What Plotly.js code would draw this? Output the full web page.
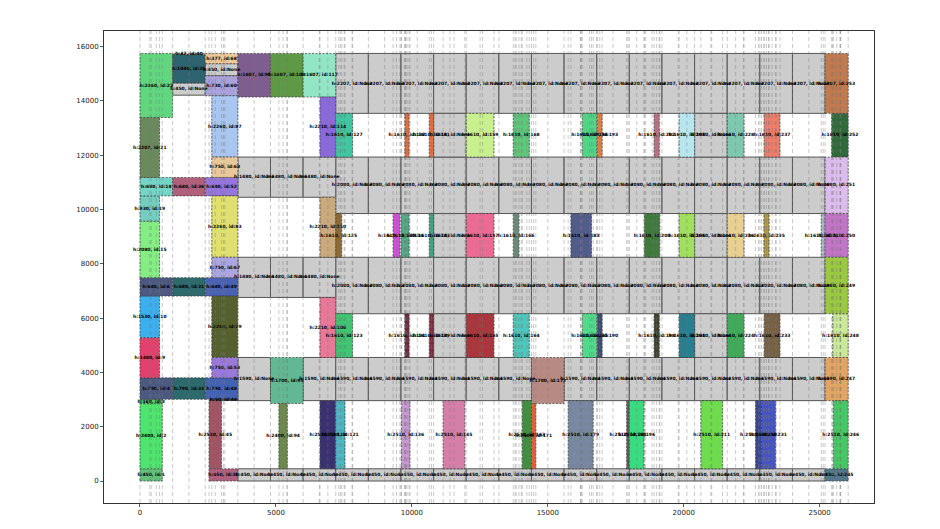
<!DOCTYPE html>
<html><head><meta charset="utf-8">
<script src="https://cdn.plot.ly/plotly-3.0.1.min.js"></script>
<style>html,body{margin:0;padding:0;background:#fff}#chart{width:940px;height:529px}</style>
</head><body><div id="chart"></div>
<script>
// ---- Data: packed items (id, left x, right x, bottom y, height) ----
const itemId = ['1','2','3','4','33','48','9','10','6','31','49','15','19','18','36','52','21','22','40','35',
  '68','60','87','68','83','67','79','53','46','45','38',
  '90','100','117','114','110','106','95','94','118','121',
  '127','132','141','159','168','186','193','202','208','228','237','252',
  '125','130','134','143','157','166','183','200','206','226','235','243','250',
  '123','131','139','155','164','185','190','198','204','224','233','248',
  '249','251','253','247','245','172',
  '136','145','163','171','179','194','196','211','229','231','246'];
const itemX0 = [0,0,0,0,1200,2400,0,0,0,1200,2400,0,0,0,1200,2400,0,0,1200,1200,
  2400,2400,2640,2640,2640,2640,2640,2640,2540,2540,2540,
  3600,4800,6000,6620,6620,6620,4800,5110,6620,7200,
  7200,9740,10640,12000,13730,16270,16820,18910,19830,21600,22960,25440,
  7200,9310,9600,10640,12000,13730,15850,18550,19830,21600,22950,25060,25200,
  7200,9740,10640,12000,13730,16270,16820,18910,19830,21600,22960,25480,
  25200,25200,25200,25200,25200,14400,
  9620,11150,14060,14400,15750,17900,18000,20630,22640,22860,25500];
const itemX1 = [820,820,820,1200,2400,3600,720,720,1200,2400,3600,720,720,1200,2400,3600,720,1200,2400,2400,
  3600,3600,3600,3600,3600,3600,3600,3600,3600,3000,3600,
  4800,6000,7200,7200,7200,7200,6000,5420,7200,7540,
  7820,9900,10800,13020,14320,16800,17000,19100,20400,22220,23540,26050,
  7420,9560,9900,10800,13020,13940,16610,19120,20400,22220,23140,25200,26050,
  7820,9900,10800,13020,14320,16800,17000,19100,20400,22220,23540,26050,
  26050,26050,26050,26050,26050,15600,
  9930,11950,14400,14560,16670,18000,18540,21430,22860,23380,26050];
const itemY0 = [0,450,2850,3010,3010,3010,3800,5280,6810,6810,6810,7490,9570,10500,10500,10500,11180,13387,15700,14660,
  15370,14190,11930,11180,8240,7490,4550,3800,2960,450,0,
  14140,14140,14140,11930,8240,4550,2850,450,450,450,
  11930,11930,11930,11930,11930,11930,11930,11930,11930,11930,11930,11930,
  8240,8240,8240,8240,8240,8240,8240,8240,8240,8240,8240,8240,8240,
  4550,4550,4550,4550,4550,4550,4550,4550,4550,4550,4550,4550,
  6160,9850,13540,2960,0,2850,
  450,450,450,450,450,450,450,450,450,450,450];
const itemH = [450,2400,160,790,790,790,1480,1530,680,680,680,2080,930,680,680,680,2207,2360,47,1040,
  377,730,2260,750,2260,750,2260,750,50,2510,450,
  1607,1607,1607,2210,2210,2210,1700,2400,2510,2510,
  1610,1610,1610,1610,1610,1610,1610,1610,1610,1610,1610,1610,
  1610,1610,1610,1610,1610,1610,1610,1610,1610,1610,1610,1610,1610,
  1610,1610,1610,1610,1610,1610,1610,1610,1610,1610,1610,1610,
  2080,2080,2207,1590,450,1700,
  2510,2510,2510,2400,2510,2510,2510,2510,2510,2510,2510];

// ---- Data: unassigned (id None) blocks, by row ----
const colsMain = [7200,8400,9600,10800,12000,13200,14400,15600,16800,18000,19200,20400,21600,22800,24000];
const colsRowC = [3600,6000,7200,8400,9600,10800,12000,13200,15600,16800,18000,19200,20400,21600,22800,24000];
const colsRowA = [3600,4800,6000,7200,8400,9600,10800,12000,13200,14400,15600,16800,18000,19200,20400,21600,22800,24000];
const colsGap = [10800,20400];
const colsMid = [3600,4800,6000];
const noneRows = [
  {cols: colsMain, y: 13540, h: 2207},
  {cols: colsMain, y: 9850, h: 2080},
  {cols: colsMain, y: 6160, h: 2080},
  {cols: colsGap, y: 11930, h: 1610},
  {cols: colsGap, y: 8240, h: 1610},
  {cols: colsGap, y: 4550, h: 1610},
  {cols: colsRowC, y: 2960, h: 1590},
  {cols: colsRowA, y: 0, h: 450},
  {cols: colsMid, y: 10450, h: 1480},
  {cols: colsMid, y: 6760, h: 1480},
  {cols: [1200], y: 14210, h: 450},
  {cols: [2400], y: 14920, h: 450}
];
const noneWidth = 1200;
const xTicks = [0,5000,10000,15000,20000,25000];
const yTicks = [0,2000,4000,6000,8000,10000,12000,14000,16000];

// ---- Styles ----
const itemColor = ['#62c27a','#4ee46e','#58c86a','#4c5a82','#2e6a6c','#4462b4','#e4406c','#3cb0ee','#4c5a82','#2e6a6c','#4a62b4','#84ee84','#74cec0','#74d4c6','#b0607a','#9676dc','#6a8a5c','#62d67e','#d0b070','#2e6470',
  '#ecc898','#aaa2da','#a8c6f0','#e8c89a','#e0e070','#aca6e0','#56602e','#9a7ad8','#3a3a3a','#a05464','#b0607e',
  '#7e5e8e','#5e9a46','#92e6c6','#8a6ada','#c8aa7c','#e87898','#62b892','#6e8a4a','#3a3270','#4cb8c8',
  '#3ec8a2','#e4703e','#e4703e','#c8f08e','#5ec87a','#52d484','#e08044','#c07084','#b8e6ee','#7ec8b2','#ee7c6a','#2f6a3a',
  '#8e6a2e','#d04ed8','#52aa86','#42a482','#ea6c92','#6a8c7a','#525c8a','#3e7a3c','#a2de60','#e8d092','#b29a42','#b0b8cc','#c274c8',
  '#3ec672','#6e2a3a','#7e2e40','#a8383e','#4ec8bc','#52da8a','#3e4c6e','#3e4430','#2a7e8e','#40aa5a','#786042','#cae89a',
  '#9ac83e','#dcbcec','#c07a4e','#e2a462','#50788a','#b88a84',
  '#c898d2','#d47ea8','#3e903e','#e0603e','#7888a2','#555f55','#36dc7e','#6edc4c','#3a4690','#4454c4','#44c864'];

const shapes = [];
const tx = [], ty = [], tt = [];
const xEdges = new Set();

noneRows.forEach(r => {
  r.cols.forEach(c => {
    shapes.push({type:'rect', xref:'x', yref:'y', x0:c, x1:c+noneWidth, y0:r.y, y1:r.y+r.h,
      fillcolor:'#cccccc', line:{color:'#555', width:1}, layer:'below'});
    tx.push(c+noneWidth/2); ty.push(r.y+r.h/2); tt.push('h:'+r.h+', id:None');
    xEdges.add(c); xEdges.add(c+noneWidth/2);
  });
});
itemId.forEach((id,i) => {
  const x0 = itemX0[i], x1 = itemX1[i], y0 = itemY0[i], h = itemH[i];
  shapes.push({type:'rect', xref:'x', yref:'y', x0:x0, x1:x1, y0:y0, y1:y0+h,
    fillcolor:itemColor[i], line:{color:'#333', width:0.7, dash:'2px,1.5px'}, layer:'below'});
  tx.push((x0+x1)/2); ty.push(y0+h/2); tt.push('h:'+h+', id:'+id);
  xEdges.add(x0); xEdges.add(x1); xEdges.add((x0+x1)/2);
});
Array.from(xEdges).sort((a,b)=>a-b).forEach(x => {
  shapes.push({type:'line', xref:'x', yref:'paper', x0:x, x1:x, y0:0, y1:1,
    line:{color:'rgba(120,120,120,0.5)', width:0.8, dash:'4px,3px'}, layer:'above'});
});

const trace = {type:'scatter', mode:'text', x:tx, y:ty, text:tt, hoverinfo:'skip',
  textfont:{family:'DejaVu Sans', size:4.5, color:'#000', weight:'bold'}, cliponaxis:false, showlegend:false};

const tickFont = {family:'DejaVu Sans', size:7, color:'#222'};
const layout = {
  width:940, height:529,
  margin:{l:104, r:66, t:31, b:26, pad:0},
  paper_bgcolor:'#fff', plot_bgcolor:'#fff',
  showlegend:false,
  xaxis:{range:[-1324,26999], showgrid:false, zeroline:false, showline:true, mirror:true,
    linecolor:'#333', linewidth:1, ticks:'outside', ticklen:3, tickwidth:0.8, tickcolor:'#333',
    tickvals:xTicks, ticktext:xTicks.map(String), tickfont:tickFont},
  yaxis:{range:[-810,16573], showgrid:false, zeroline:false, showline:true, mirror:true,
    linecolor:'#333', linewidth:1, ticks:'outside', ticklen:3, tickwidth:0.8, tickcolor:'#333',
    tickvals:yTicks, ticktext:yTicks.map(String), tickfont:tickFont},
  shapes:shapes
};
Plotly.newPlot('chart', [trace], layout, {displayModeBar:false, staticPlot:true});
</script></body></html>
